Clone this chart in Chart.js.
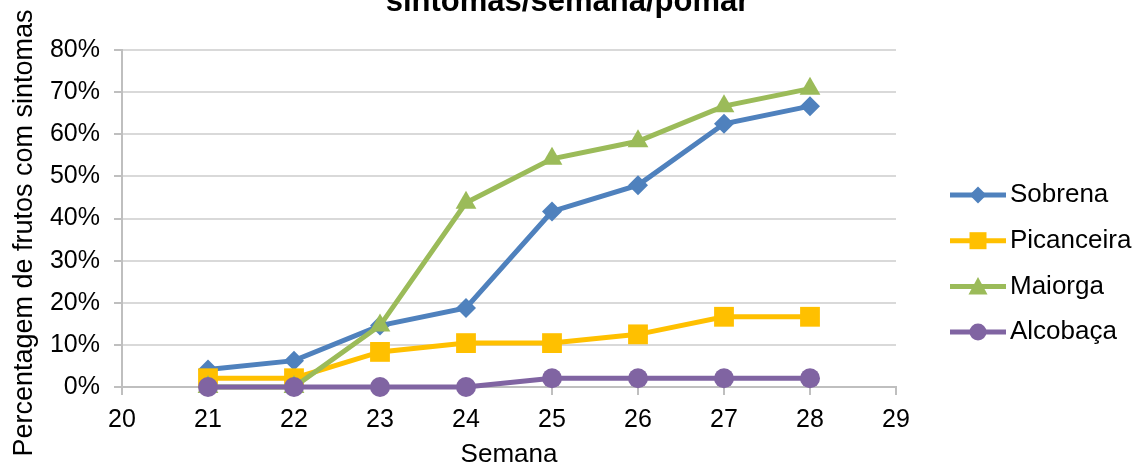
<!DOCTYPE html>
<html>
<head>
<meta charset="utf-8">
<script src="https://cdn.jsdelivr.net/npm/chart.js@4.4.1/dist/chart.umd.min.js"></script>
<style>
  html, body { margin: 0; padding: 0; background: #fff; }
  #wrap { width: 1135px; height: 468px; position: relative; overflow: hidden; }
</style>
</head>
<body>
<div id="wrap"><canvas id="chart" width="1135" height="468"></canvas></div>
<script>
// data (percent of fruits with symptoms)
const chartTitle = 'sintomas/semana/pomar';
const yTitle = 'Percentagem de frutos com sintomas';
const weeks = [21, 22, 23, 24, 25, 26, 27, 28];
const sobrena    = [4.17, 6.25, 14.58, 18.75, 41.67, 47.92, 62.5, 66.67];
const picanceira = [2.08, 2.08, 8.33, 10.42, 10.42, 12.5, 16.67, 16.67];
const maiorga    = [0, 0, 14.58, 43.75, 54.17, 58.33, 66.67, 70.83];
const alcobaca   = [0, 0, 0, 0, 2.08, 2.08, 2.08, 2.08];
const seriesNames = ['Sobrena', 'Picanceira', 'Maiorga', 'Alcobaça'];

const FONT = '"Liberation Sans", Arial, sans-serif';
Chart.defaults.font.family = FONT;
Chart.defaults.color = '#000';

const toPoints = vals => vals.map((v, i) => ({ x: weeks[i], y: v }));

function drawMarker(ctx, style, x, y, r) {
  ctx.beginPath();
  if (style === 'circle') {
    ctx.arc(x, y, r, 0, Math.PI * 2);
  } else if (style === 'rect') {
    ctx.rect(x - r, y - r, 2 * r, 2 * r);
  } else if (style === 'rectRot') {
    ctx.moveTo(x, y - r); ctx.lineTo(x + r, y); ctx.lineTo(x, y + r); ctx.lineTo(x - r, y);
    ctx.closePath();
  } else if (style === 'triangle') {
    ctx.moveTo(x, y - r); ctx.lineTo(x + r, y + r * 0.85); ctx.lineTo(x - r, y + r * 0.85);
    ctx.closePath();
  }
  ctx.fill();
}

// title is cut at the top in the original, drawn by hand
// y title drawn by hand too, it sits a bit lower than the plot centre
const titlePlugin = {
  id: 'cutTitle',
  afterDraw(chart) {
    const ctx = chart.ctx;
    ctx.save();
    ctx.font = 'bold 31px ' + FONT;
    ctx.fillStyle = '#000';
    ctx.textAlign = 'center';
    ctx.textBaseline = 'alphabetic';
    ctx.fillText(chartTitle, chart.width / 2, 11);
    ctx.restore();

    ctx.save();
    ctx.font = '27px ' + FONT;
    ctx.fillStyle = '#000';
    ctx.textAlign = 'center';
    ctx.textBaseline = 'alphabetic';
    ctx.translate(32, 233);
    ctx.rotate(-Math.PI / 2);
    ctx.fillText(yTitle, 0, 0);
    ctx.restore();
  }
};

// excel style legend: line with marker in the middle
const legendPlugin = {
  id: 'lineLegend',
  afterDraw(chart) {
    const ctx = chart.ctx;
    chart.data.datasets.forEach((ds, i) => {
      const y = 195 + i * 45.7;
      ctx.save();
      ctx.strokeStyle = ds.borderColor;
      ctx.lineWidth = 5;
      ctx.beginPath();
      ctx.moveTo(950, y);
      ctx.lineTo(1006, y);
      ctx.stroke();
      ctx.fillStyle = ds.borderColor;
      drawMarker(ctx, ds.pointStyle, 978, y, ds.legendRadius);
      ctx.font = '26px ' + FONT;
      ctx.fillStyle = '#000';
      ctx.textAlign = 'left';
      ctx.textBaseline = 'middle';
      ctx.fillText(ds.label, 1010, y);
      ctx.restore();
    });
  }
};

const colors = ['#4F81BD', '#FFC000', '#9BBB59', '#8064A2'];
const styles = ['rectRot', 'rect', 'triangle', 'circle'];
const radii = [10, 14, 12, 10];
const legendRadii = [8.5, 8.5, 9.5, 8.5];
const values = [sobrena, picanceira, maiorga, alcobaca];

const datasets = values.map((vals, i) => ({
  label: seriesNames[i],
  data: toPoints(vals),
  borderColor: colors[i],
  backgroundColor: colors[i],
  borderWidth: 5,
  pointStyle: styles[i],
  pointRadius: radii[i],
  pointHoverRadius: radii[i],
  pointBorderWidth: 0,
  pointBackgroundColor: colors[i],
  legendRadius: legendRadii[i],
  tension: 0,
  clip: false,
  order: 4 - i
}));

new Chart(document.getElementById('chart'), {
  type: 'line',
  data: { datasets: datasets },
  options: {
    responsive: false,
    animation: false,
    layout: { padding: { top: 50, right: 239, bottom: 0, left: 0 } },
    plugins: { legend: { display: false }, tooltip: { enabled: false } },
    scales: {
      x: {
        type: 'linear',
        min: 20,
        max: 29,
        ticks: { stepSize: 1, padding: 10, font: { size: 25 } },
        grid: { drawOnChartArea: false, drawTicks: true, tickLength: 8, color: '#bfbfbf', lineWidth: 2 },
        border: { color: '#bfbfbf', width: 2 },
        title: { display: true, text: 'Semana', font: { size: 26, lineHeight: 1 }, padding: { top: 0, bottom: 0 } },
        afterFit: scale => { scale.height = 81; }
      },
      y: {
        min: 0,
        max: 80,
        ticks: { stepSize: 10, padding: 14, font: { size: 25 }, callback: v => v + '%' },
        grid: { color: '#d9d9d9', lineWidth: 2, tickLength: 8, tickColor: '#bfbfbf' },
        border: { color: '#bfbfbf', width: 2 },
        afterFit: scale => { scale.width = 122; }
      }
    }
  },
  plugins: [titlePlugin, legendPlugin]
});
</script>
</body>
</html>
